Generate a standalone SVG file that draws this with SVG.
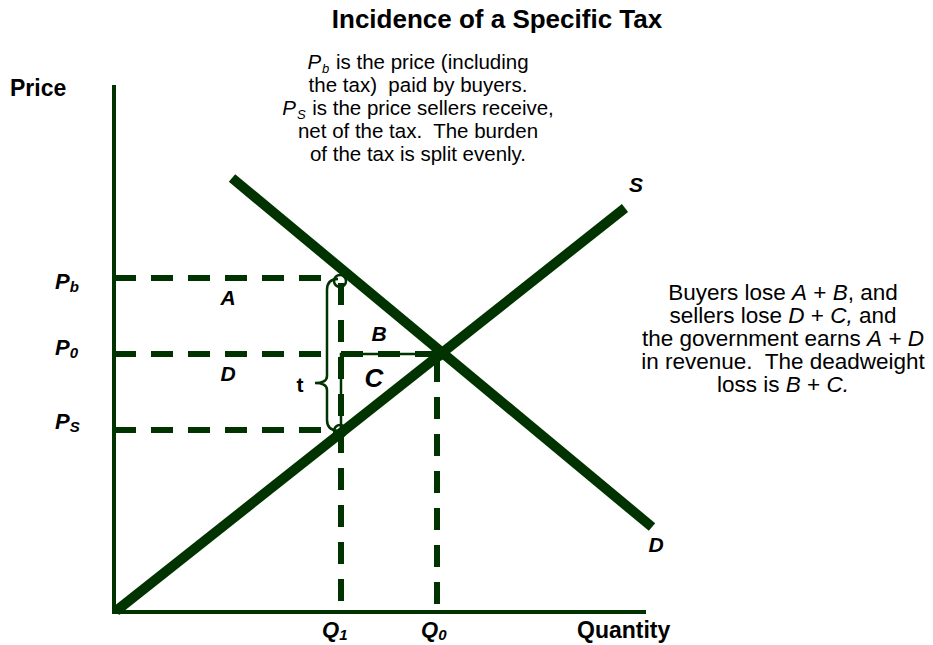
<svg xmlns="http://www.w3.org/2000/svg" width="933" height="645" viewBox="0 0 933 645">
<style>
.t{font-family:"Liberation Sans",Arial,sans-serif;fill:#000}
.b{font-weight:bold}
.i{font-style:italic}
.lab{font-family:"Liberation Sans",Arial,sans-serif;font-weight:bold;font-style:italic;fill:#000}
.axis{stroke:#003300;stroke-width:4;fill:none}
.curve{stroke:#003300;stroke-width:10;fill:none}
.dash{stroke:#003300;stroke-width:6;fill:none;stroke-dasharray:22 15}
.thin{stroke:#003300;stroke-width:2.5;fill:none}
</style>
<rect width="933" height="645" fill="#fff"/>
<text class="t b" x="497" y="28" font-size="26" text-anchor="middle">Incidence of a Specific Tax</text>
<g id="note-top" class="t" font-size="20.5" text-anchor="middle">
<text x="418" y="69"><tspan class="i">P</tspan><tspan class="i" font-size="13" dx="1" dy="4">b</tspan><tspan dx="1" dy="-4"> is the price (including</tspan></text>
<text x="418" y="92">the tax)&#160; paid by buyers.</text>
<text x="418" y="115"><tspan class="i">P</tspan><tspan class="i" font-size="13" dx="1" dy="4">S</tspan><tspan dx="1" dy="-4"> is the price sellers receive,</tspan></text>
<text x="418" y="138">net of the tax.&#160; The burden</text>
<text x="418" y="161">of the tax is split evenly.</text>
</g>
<g id="note-right" class="t" font-size="22.5" text-anchor="middle">
<text x="783" y="300">Buyers lose <tspan class="i">A</tspan> + <tspan class="i">B</tspan>, and</text>
<text x="783" y="323">sellers lose <tspan class="i">D</tspan> + <tspan class="i">C,</tspan> and</text>
<text x="783" y="346">the government earns <tspan class="i">A</tspan> + <tspan class="i">D</tspan></text>
<text x="783" y="369">in revenue.&#160; The deadweight</text>
<text x="783" y="392">loss is <tspan class="i">B</tspan> + <tspan class="i">C.</tspan></text>
</g>
<g id="connectors">
<line class="dash" x1="114" y1="278" x2="336" y2="278"/>
<line class="dash" x1="114" y1="354" x2="324" y2="354"/>
<line class="dash" x1="114" y1="430" x2="336" y2="430"/>
<line class="dash" x1="341" y1="283" x2="341" y2="612"/>
<line class="dash" x1="437" y1="360" x2="437" y2="612"/>
<polyline class="thin" points="341,430 341,354 437,354"/>
<line class="dash" x1="341" y1="354" x2="437" y2="354"/>
<path class="thin" d="M338 279 Q327 279 327 290 L327 376 Q327 383 315 383 Q327 383 327 390 L327 420 Q327 430 338 431"/>
<circle class="thin" cx="340" cy="281" r="6"/>
<circle class="thin" cx="340" cy="431" r="6"/>
<circle class="thin" cx="438" cy="354" r="6"/>
</g>
<g id="axes">
<line class="axis" x1="114" y1="85" x2="114" y2="614"/>
<line class="axis" x1="112" y1="612" x2="646" y2="612"/>
</g>
<g id="supply"><line class="curve" x1="116" y1="611" x2="625" y2="208"/></g>
<g id="demand"><line class="curve" x1="232" y1="178" x2="652" y2="527"/></g>
<g id="labels">
<text class="t b" x="10" y="96" font-size="23">Price</text>
<text class="lab" x="55" y="289" font-size="22">P<tspan font-size="15" dy="3">b</tspan></text>
<text class="lab" x="55" y="355" font-size="22">P<tspan font-size="15" dy="3">0</tspan></text>
<text class="lab" x="55" y="429" font-size="22">P<tspan font-size="15" dy="3">S</tspan></text>
<text class="lab" x="228" y="305" font-size="21" text-anchor="middle">A</text>
<text class="lab" x="228" y="381" font-size="21" text-anchor="middle">D</text>
<text class="lab" x="379" y="341" font-size="21" text-anchor="middle">B</text>
<text class="lab" x="374" y="387" font-size="26" text-anchor="middle">C</text>
<text class="t b" x="300" y="392" font-size="21" text-anchor="middle">t</text>
<text class="lab" x="636" y="192" font-size="21" text-anchor="middle">S</text>
<text class="lab" x="656" y="552" font-size="21" text-anchor="middle">D</text>
<text class="lab" x="322" y="637" font-size="22">Q<tspan font-size="15" dy="3">1</tspan></text>
<text class="lab" x="421" y="637" font-size="22">Q<tspan font-size="15" dy="3">0</tspan></text>
<text class="t b" x="577" y="638" font-size="23">Quantity</text>
</g>
</svg>
